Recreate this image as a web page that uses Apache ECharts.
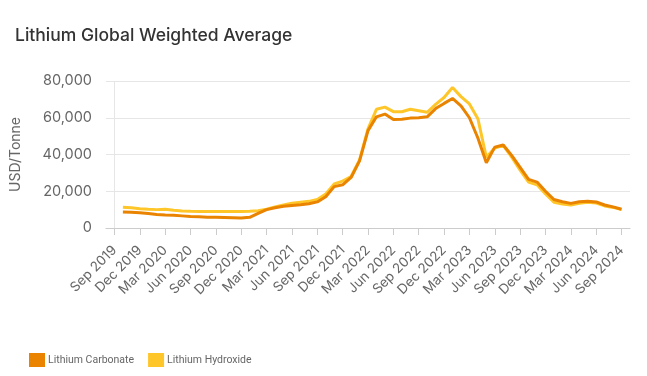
<!DOCTYPE html>
<html>
<head>
<meta charset="utf-8">
<script src="https://cdn.jsdelivr.net/npm/echarts@6/dist/echarts.min.js"></script>
<style>
  html, body { margin: 0; padding: 0; background: #fff; }
  #chart { width: 647px; height: 376px; }
</style>
</head>
<body>
<div id="chart"></div>
<script>
// months Aug 2019 .. Oct 2024 (first/last are padding so the axis runs past the ticks)
var monthNames = ['Jan','Feb','Mar','Apr','May','Jun','Jul','Aug','Sep','Oct','Nov','Dec'];
var months = [];
for (var y = 2019, m = 7; y < 2024 || (y === 2024 && m <= 9); ) {
	months.push(monthNames[m] + ' ' + y);
	m++;
	if (m > 11) { m = 0; y++; }
}

// tick labels shown on the axis
var tickLabels = ['Sep 2019','Dec 2019','Mar 2020','Jun 2020','Sep 2020','Dec 2020','Mar 2021','Jun 2021',
	'Sep 2021','Dec 2021','Mar 2022','Jun 2022','Sep 2022','Dec 2022','Mar 2023','Jun 2023',
	'Sep 2023','Dec 2023','Mar 2024','Jun 2024','Sep 2024'];

// USD/Tonne, Aug 2019 .. Oct 2024
var carbonate = [null, null,
	8700, 8600, 8300, 7900, 7400, 7100, 6900, 6600, 6300, 6100, 5900, 5800,
	5700, 5600, 5500, 5800, 8000, 10000, 11000, 11800, 12300, 12700, 13200, 14200,
	17000, 22500, 23500, 27500, 36500, 53000, 60500, 62000, 59000, 59200, 59800, 60000,
	60500, 65000, 67800, 70500, 66500, 60000, 49000, 35500, 44000, 45200, 39500, 33000,
	26500, 25000, 20000, 15500, 14300, 13400, 14300, 14600, 14200, 12500, 11500, 10200,
	null];

var hydroxide = [null, null,
	11300, 11000, 10500, 10200, 10000, 10200, 9600, 9300, 9100, 9000, 9000, 9000,
	9000, 9000, 9000, 9100, 9400, 10200, 11500, 12500, 13500, 14000, 14500, 15500,
	18500, 24000, 25500, 28000, 37000, 54000, 64600, 65800, 63300, 63300, 64600, 63800,
	63000, 67300, 71000, 76500, 71500, 67500, 59500, 38500, 43500, 45000, 38500, 31500,
	25000, 23500, 18500, 14000, 13000, 12500, 13500, 14000, 13600, 12000, 11200, 10000,
	null];

var chart = echarts.init(document.getElementById('chart'));

function isTick(index, value) {
	return tickLabels.indexOf(value) >= 0;
}

var option = {
	backgroundColor: '#fff',
	animation: false,
	title: {
		text: 'Lithium Global Weighted Average',
		left: 10,
		top: 22,
		textStyle: { fontFamily: 'Inter', fontSize: 17.5, fontWeight: 500, color: '#333' }
	},
	legend: {
		data: ['Lithium Carbonate', 'Lithium Hydroxide'],
		left: 24,
		top: 348,
		icon: 'rect',
		itemWidth: 16,
		itemHeight: 14,
		itemGap: 14,
		textStyle: { fontFamily: 'Roboto', fontSize: 10.5, color: '#666', padding: [0, 0, 0, -2] }
	},
	grid: { left: 106, right: 17, top: 81, bottom: 148 },
	xAxis: {
		type: 'category',
		data: months,
		boundaryGap: false,
		axisLine: { lineStyle: { color: '#ccc' } },
		axisTick: { interval: isTick, length: 7, lineStyle: { color: '#ccc' } },
		axisLabel: {
			interval: isTick,
			rotate: 45,
			margin: 20,
			fontFamily: 'Inter',
			fontSize: 13.5,
			color: '#666'
		}
	},
	yAxis: {
		type: 'value',
		min: 0,
		max: 80000,
		interval: 20000,
		name: 'USD/Tonne',
		nameLocation: 'middle',
		nameGap: 83,
		nameTextStyle: { fontFamily: 'Inter', fontSize: 14, color: '#666' },
		axisLine: { show: false },
		axisTick: { show: false },
		splitLine: { lineStyle: { color: '#e6e6e6' } },
		axisLabel: {
			margin: 14,
			fontFamily: 'Inter',
			fontSize: 14.5,
			color: '#666',
			formatter: function (v) { return v.toLocaleString('en-US'); }
		}
	},
	series: [
		{
			name: 'Lithium Carbonate',
			type: 'line',
			data: carbonate,
			symbol: 'none',
			z: 3,
			color: '#E98300',
			lineStyle: { width: 3, color: '#E98300' },
			markLine: {
				silent: true,
				symbol: 'none',
				label: { show: false },
				lineStyle: { color: '#e6e6e6', type: 'solid', width: 1 },
				data: [{ xAxis: 'Sep 2019' }]
			}
		},
		{
			name: 'Lithium Hydroxide',
			type: 'line',
			data: hydroxide,
			symbol: 'none',
			z: 2,
			color: '#FFC629',
			lineStyle: { width: 3, color: '#FFC629' }
		}
	]
};

chart.setOption(option);
</script>
</body>
</html>
